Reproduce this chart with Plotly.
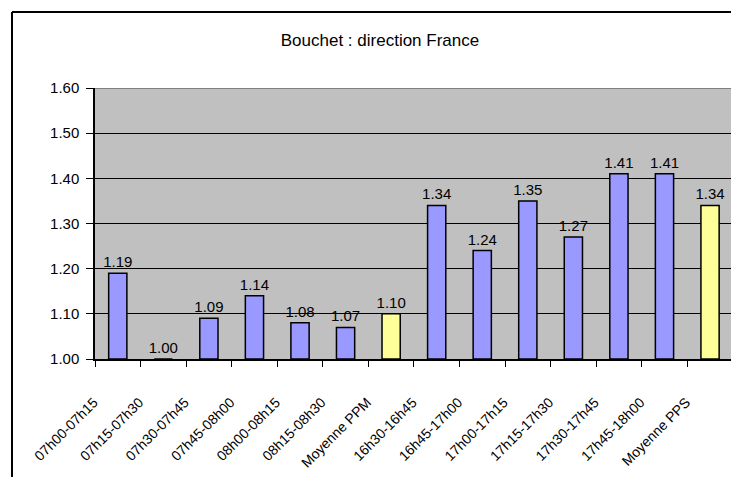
import plotly.graph_objects as go

categories = ["07h00-07h15", "07h15-07h30", "07h30-07h45", "07h45-08h00", "08h00-08h15",
              "08h15-08h30", "Moyenne PPM", "16h30-16h45", "16h45-17h00", "17h00-17h15",
              "17h15-17h30", "17h30-17h45", "17h45-18h00", "Moyenne PPS"]
values = [1.19, 1.00, 1.09, 1.14, 1.08, 1.07, 1.10, 1.34, 1.24, 1.35, 1.27, 1.41, 1.41, 1.34]
y_ticks = [1.00, 1.10, 1.20, 1.30, 1.40, 1.50, 1.60]

W, H = 731, 477
L, R, T, B = 95, 0, 88, 118
pw, ph = W - L - R, H - T - B

bar_colors = ["#FFFF99" if c.startswith("Moyenne") else "#9999FF" for c in categories]
font = "Arial, Liberation Sans, sans-serif"

fig = go.Figure()
fig.add_trace(go.Bar(
    x=categories, y=[v - 1.0 for v in values], base=1.0,
    marker=dict(color=bar_colors, line=dict(color="black", width=1.5)),
    width=0.4,
    text=[f"{v:.2f}" for v in values], textposition="outside",
    textfont=dict(family=font, size=15, color="black"),
    constraintext="none", cliponaxis=False, showlegend=False, hoverinfo="x+text",
))

# gray top edge of plot area
fig.add_shape(type="line", xref="paper", yref="y", x0=0, x1=1, y0=1.6, y1=1.6,
              line=dict(color="#808080", width=2))
# outer chart border (left and top, rest falls outside the window)
bx = (12 - L) / pw
by = 1 + (T - 12) / ph
fig.add_shape(type="line", xref="paper", yref="paper", x0=bx, x1=bx, y0=by, y1=-1,
              line=dict(color="black", width=2))
fig.add_shape(type="line", xref="paper", yref="paper", x0=bx, x1=1.2, y0=by, y1=by,
              line=dict(color="black", width=2))

fig.update_layout(
    width=W, height=H,
    margin=dict(l=L, r=R, t=T, b=B),
    paper_bgcolor="white", plot_bgcolor="#C0C0C0",
    font=dict(family=font, size=15, color="black"),
    title=dict(text="Bouchet : direction France", x=(380 - L) / pw, xref="paper", xanchor="center",
               y=1 - 40 / H, yanchor="middle", font=dict(size=17)),
    bargap=0.6,
    xaxis=dict(range=[-0.5, 13.46], showline=True, linecolor="black", linewidth=1.5,
               ticks="outside", ticklen=6, tickcolor="black", tickson="boundaries",
               tickangle=-45, tickfont=dict(size=14), showgrid=False,
               ticklabelstandoff=28, ticklabelshift=-24),
    yaxis=dict(range=[1.0, 1.6], tickvals=y_ticks, ticktext=[f"{t:.2f}" for t in y_ticks],
               showline=True, linecolor="black", linewidth=1.5,
               ticks="outside", ticklen=7, tickcolor="black", ticklabelstandoff=4,
               gridcolor="black", gridwidth=1, zeroline=False, tickfont=dict(size=15)),
)

fig.write_html("out.html", config={"displayModeBar": False},
               post_script="document.body.style.margin='0';document.body.style.overflow='hidden';")
